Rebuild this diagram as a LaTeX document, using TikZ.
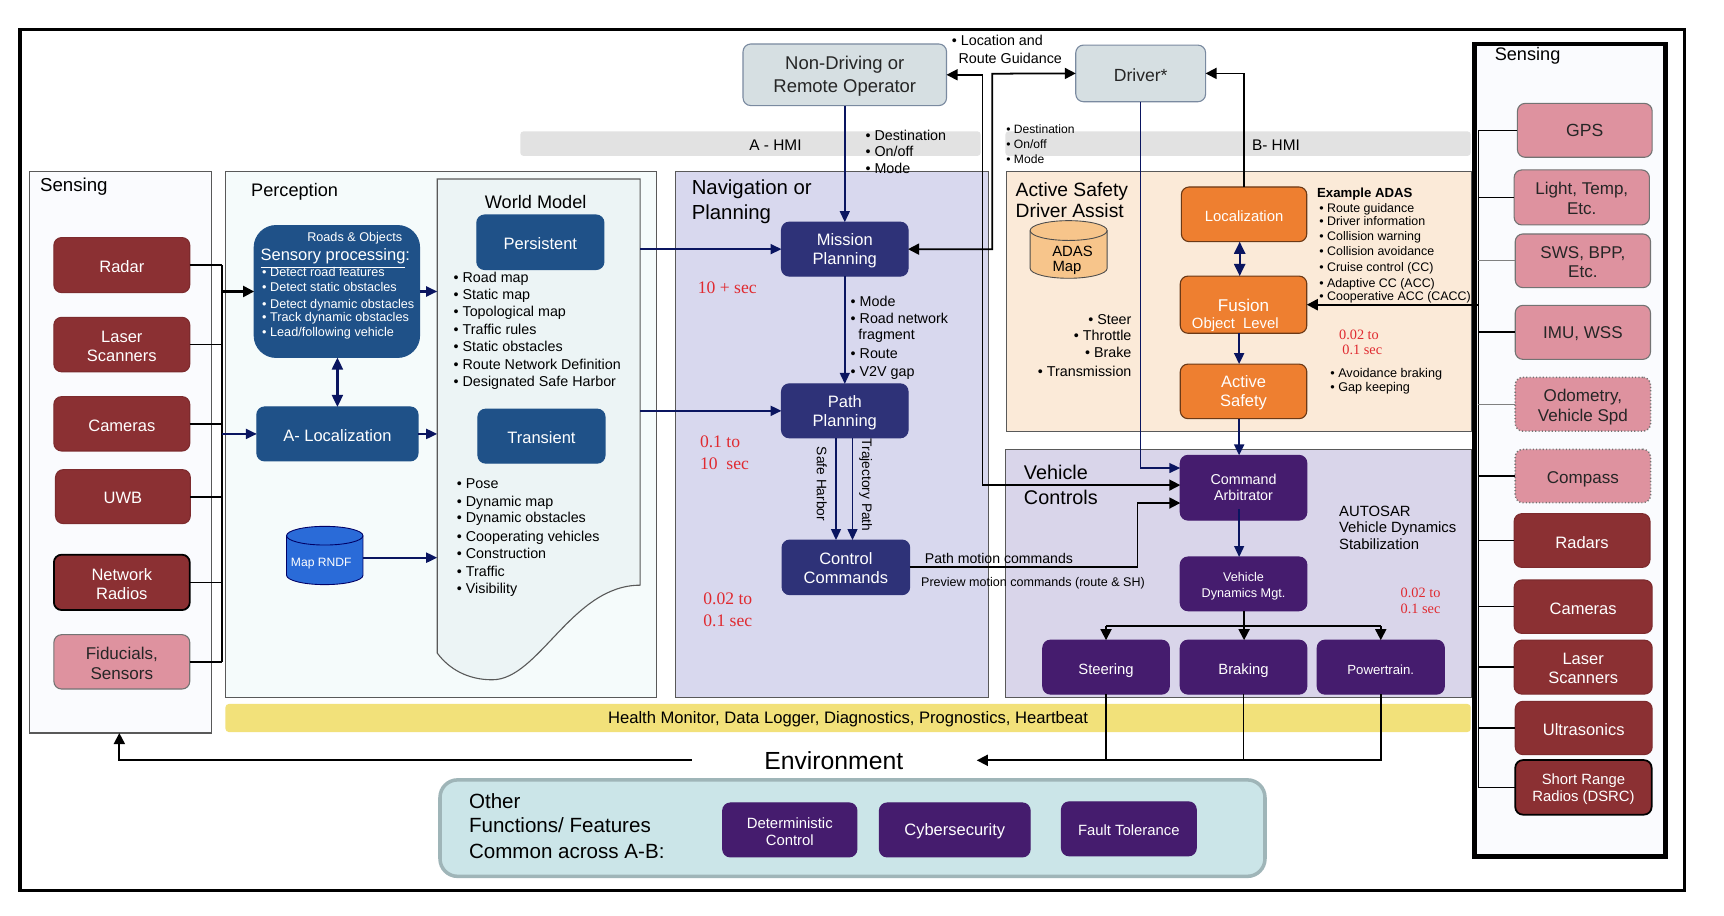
\documentclass[tikz,border=0pt]{standalone}
\usepackage{fontspec}
\setmainfont{Liberation Sans}
\newfontfamily\redserif{Liberation Serif}
\usetikzlibrary{arrows.meta,calc}
\definecolor{cdred}{HTML}{8B3033}
\definecolor{cpink}{HTML}{DE929F}
\definecolor{cblue}{HTML}{1F5188}
\definecolor{cnavy}{HTML}{2E3278}
\definecolor{cpurp}{HTML}{451C6E}
\definecolor{corange}{HTML}{EE7F30}
\definecolor{cgrey}{HTML}{D6DFE2}
\definecolor{cgborder}{HTML}{7A8AA0}
\definecolor{cline}{HTML}{0A1560}
\definecolor{cred}{HTML}{E02A30}
\definecolor{cbar}{HTML}{E2E2E2}
\definecolor{csens}{HTML}{FAFBFE}
\definecolor{cperc}{HTML}{F5FBFB}
\definecolor{cworld}{HTML}{ECF4F5}
\definecolor{cnavp}{HTML}{D8D8EE}
\definecolor{cvehp}{HTML}{D9D5EA}
\definecolor{cactp}{HTML}{FBEAD8}
\definecolor{cyell}{HTML}{F2E17A}
\definecolor{cothr}{HTML}{CBE5E8}
\definecolor{cothb}{HTML}{9FB5B8}
\definecolor{cmapb}{HTML}{2A6BD8}
\definecolor{cadas}{HTML}{F7C58B}
\newcommand\sz[1]{\pgfmathsetmacro\zs{#1*.5}\pgfmathsetmacro\zl{#1*.5*1.14}\fontsize{\zs pt}{\zl pt}\selectfont}
\newcounter{tcnt}
\gdef\txtdrop{.75pt}
\newcommand\bx[7]{%
 \gdef\txtdrop{.75pt}%
 \pgfmathsetmacro\cx{(#2+#4)/2}\pgfmathsetmacro\cy{(#3+#5)/2}%
 \pgfmathsetlengthmacro\bw{(#4-#2)*0.5pt}\pgfmathsetlengthmacro\bh{(#5-#3)*0.5pt}%
 \node[#6,minimum width=\bw,minimum height=\bh,inner sep=0pt,outer sep=0pt] (#1) at (\cx,\cy) {};
 \node[#6,draw=none,fill=none,inner sep=0pt,align=center,yshift=-\txtdrop] (#1t) at (\cx,\cy) {#7};}
\newcommand\tl[4][black]{\stepcounter{tcnt}\node[text=#1,anchor=mid west,inner sep=0pt,font=\sz{#2}] (tl\arabic{tcnt}) at (#3) {#4};}
\newcommand\tr[4][black]{\stepcounter{tcnt}\node[text=#1,anchor=mid east,inner sep=0pt,font=\sz{#2}] (tl\arabic{tcnt}) at (#3) {#4};}
\newcommand\tc[4][black]{\stepcounter{tcnt}\node[text=#1,anchor=mid,inner sep=0pt,font=\sz{#2}] (tl\arabic{tcnt}) at (#3) {#4};}
\newcommand\rd[3]{\stepcounter{tcnt}\node[text=cred,anchor=mid west,inner sep=0pt,font={\redserif\sz{#1}}] (tl\arabic{tcnt}) at (#2) {#3};}
\tikzset{
 x=0.5pt,y=-0.5pt,
 drop/.code={\gdef\txtdrop{#1}},
 pnl/.style={draw=black!65,line width=0.5pt},
 rb/.style={rounded corners=3.5pt,line width=0.5pt},
 dark/.style={rb,fill=cdred,draw=cdred!90!black,text=white,font=\sz{15}},
 pink/.style={rb,fill=cpink,draw=black!55,text=black!85,font=\sz{15.5}},
 pinkd/.style={pink,densely dotted,line width=.7pt},
 blu/.style={rb,fill=cblue,draw=cblue,text=white,font=\sz{15}},
 nav/.style={rb,fill=cnavy,draw=cnavy,text=white,font=\sz{15}},
 pur/.style={rb,fill=cpurp,draw=cpurp,text=white,font=\sz{13}},
 org/.style={rb,fill=corange,draw=black!55!corange,text=white,font=\sz{15}},
 gry/.style={rb,fill=cgrey,draw=cgborder,text=black!85,font=\sz{16.8}},
 blk/.style={draw=black,line width=0.8pt},
 blkt/.style={draw=black,line width=0.6pt},
 arr/.style={blk,-{Triangle[length=5pt,width=5pt]}},
 arrb/.style={blk,{Triangle[length=5pt,width=5pt]}-{Triangle[length=5pt,width=5pt]}},
 narr/.style={draw=cline,line width=0.7pt,-{Triangle[length=5pt,width=4.5pt]}},
 narrk/.style={narr,line width=1pt},
 narrb/.style={draw=cline,line width=1pt,{Triangle[length=5.5pt,width=5pt]}-{Triangle[length=5.5pt,width=5pt]}},
}
\begin{document}
\begin{tikzpicture}
\useasboundingbox (0,0) rectangle (1567.3,832.7);
\fill[white] (0,0) rectangle (1567.3,832.7);
% frame
\bx{frame}{18}{27}{1531.5}{809.4}{draw=black,line width=1.6pt}{}
% bars and panels
\bx{barA}{473}{119.4}{891.5}{141.8}{fill=cbar,rounded corners=1.5pt}{}
\bx{barB}{914}{119.4}{1337}{141.8}{fill=cbar,rounded corners=1.5pt}{}
\bx{lsens}{26.5}{155.8}{192.5}{666.4}{pnl,fill=csens}{}
\bx{perc}{205}{155.8}{597}{634}{pnl,fill=cperc}{}
\bx{navp}{614.5}{155.8}{899}{634}{pnl,fill=cnavp}{}
\bx{aspan}{915}{155.8}{1338}{392}{pnl,fill=cactp}{}
\bx{vcpan}{914}{408.5}{1338}{634}{pnl,fill=cvehp}{}
\bx{yell}{205}{640}{1337}{665.5}{fill=cyell,rounded corners=1.5pt,font=\sz{15.1}}{Health Monitor, Data Logger, Diagnostics, Prognostics, Heartbeat}
\bx{othr}{400}{709}{1150}{796.7}{rounded corners=8pt,fill=cothr,draw=cothb,line width=1.6pt}{}
\bx{rsens}{1340.5}{40}{1514}{778.5}{draw=black,line width=2.2pt,fill=csens}{}
% world model
\bx{wm}{397.5}{162.7}{582}{593.7}{}{}
\draw[pnl,fill=cworld] (397.5,162.7) -- (582,162.7) -- (582,532) .. controls (520,532) and (490,618) .. (447.5,618) .. controls (425,618) and (408,608) .. (397.5,593.7) -- cycle;
% left sensing
\bx{radar}{49}{216}{172.5}{266}{dark}{Radar}
\bx{laser}{49}{288.5}{172.5}{338}{dark}{Laser\\Scanners}
\bx{cams}{49}{360.6}{172.5}{410}{dark}{Cameras}
\bx{uwb}{50.5}{427}{173}{476}{dark}{UWB}
\bx{netr}{49}{504.3}{172.5}{554.6}{dark,draw=black,line width=.8pt}{Network\\Radios}
\bx{fidu}{49}{577}{172.5}{626.4}{pink}{Fiducials,\\Sensors}
\coordinate (lbusT) at (202,241);
\coordinate (lbusB) at (202,601.7);
\draw[blk] (lbusT) -- (lbusB);
\foreach \n in {radar,laser,cams,uwb,netr,fidu} \draw[blk] (\n.east) -- (\n.east -| lbusT);
% perception
\bx{sp}{231}{205}{381.5}{325}{rounded corners=10pt,fill=cblue,draw=cblue}{}
\bx{aloc}{233.5}{370}{380}{419}{blu}{A- Localization}
\bx{pers}{433.5}{195.5}{549}{245}{blu}{Persistent}
\bx{tran}{434.5}{372}{550}{421}{blu}{Transient}
\tc[white]{11.5}{322.5,214}{Roads \& Objects}
\tl[white]{15}{236.5,231.5}{\underline{Sensory processing}:}
\tl[white]{11.5}{238,246.5}{•\ Detect road features}
\tl[white]{11.5}{238,260}{•\ Detect static obstacles}
\tl[white]{11.5}{238,275}{•\ Detect dynamic obstacles}
\tl[white]{11.5}{238,287}{•\ Track dynamic obstacles}
\tl[white]{11.5}{238,301}{•\ Lead/following vehicle}
\tl{16.5}{228,173}{Perception}
\tl{17}{36,169}{Sensing}
\tc{16.5}{487,184}{World Model}
\tl{13}{412,251.5}{•\ Road map}
\tl{13}{412,267}{•\ Static map}
\tl{13}{412,282}{•\ Topological map}
\tl{13}{412,299}{•\ Traffic rules}
\tl{13}{412,314.5}{•\ Static obstacles}
\tl{13}{412,331}{•\ Route Network Definition}
\tl{13}{412,346}{•\ Designated Safe Harbor}
\tl{13}{415,439}{•\ Pose}
\tl{13}{415,455}{•\ Dynamic map}
\tl{13}{415,470}{•\ Dynamic obstacles}
\tl{13}{415,487}{•\ Cooperating vehicles}
\tl{13}{415,502.5}{•\ Construction}
\tl{13}{415,519}{•\ Traffic}
\tl{13}{415,534}{•\ Visibility}
% map RNDF
\bx{mapr}{260.5}{478.5}{330}{531.5}{}{}
\draw[draw=black!60!blue,fill=cmapb,line width=.4pt] (260.5,487) -- (260.5,523) .. controls (260.5,527.7) and (276.2,531.5) .. (295.25,531.5) .. controls (314.4,531.5) and (330,527.7) .. (330,523) -- (330,487) .. controls (330,482.3) and (314.4,478.5) .. (295.25,478.5) .. controls (276.2,478.5) and (260.5,482.3) .. (260.5,487) -- cycle;
\draw[draw=black!60!blue,line width=.4pt] (260.5,487) .. controls (260.5,491.7) and (276.2,495.5) .. (295.25,495.5) .. controls (314.4,495.5) and (330,491.7) .. (330,487);
\tc[white]{11}{292,510}{Map RNDF}
\draw[narrk] (sp.east) -- (sp.east -| wm.west);
\draw[narrk] (aloc.east) -- (aloc.east -| wm.west);
\draw[narrk] (330,507) -- (397.5,507);
\draw[narrb] (sp.south -| aloc.north) -- (aloc.north);
\draw[arr,line width=1pt] (lbusT |- sp.west) -- (sp.west);
\draw[narrk] (lbusT |- aloc.west) -- (aloc.west);
% HMI
\tc{14}{705,131.5}{A - HMI}
\tc{14}{1160,131.5}{B- HMI}
\bx{nd}{675.5}{40}{860.5}{96}{gry}{Non-Driving or\\[1pt]Remote Operator}
\bx{dr}{978}{41}{1096}{92.5}{gry,font=\sz{16}}{Driver*}
\tl{13}{865,36}{•\ Location and}
\tl{13}{871,52}{Route Guidance}
\tl{13}{786.5,122}{•\ Destination}
\tl{13}{786.5,137}{•\ On/off}
\tl{13}{786.5,152.7}{•\ Mode}
\tl{11}{914.5,116}{•\ Destination}
\tl{11}{914.5,130}{•\ On/off}
\tl{11}{914.5,143}{•\ Mode}
% navigation
\tl{18.5}{628.5,171.5}{Navigation or}
\tl{18.5}{628.5,194.5}{Planning}
\bx{mp}{710.5}{202}{825.5}{251}{nav}{Mission\\Planning}
\bx{pp}{710.5}{349}{825.5}{398}{nav}{Path\\Planning}
\bx{cc}{711}{491}{827}{540.6}{nav,drop=.4pt}{Control\\Commands}
\rd{16}{634,261.5}{10 + sec}
\rd{16}{636,402}{0.1 to}
\rd{16}{636,422}{10\ \ sec}
\rd{16}{639,544.3}{0.02 to}
\rd{16}{639,564}{0.1 sec}
\tl{13}{773,273.6}{•\ Mode}
\tl{13}{773,288.8}{•\ Road network}
\tl{13}{780,303.6}{fragment}
\tl{13}{773,321}{•\ Route}
\tl{13}{773,337}{•\ V2V gap}
\stepcounter{tcnt}\node[rotate=-90,font=\sz{12.5},inner sep=0pt] (sh) at (747,440) {Safe Harbor};
\stepcounter{tcnt}\node[rotate=-90,font=\sz{12.5},inner sep=0pt] (tp) at (787,441) {Trajectory Path};
\draw[narr] (nd.south) -- (mp.north);
\draw[narr] (mp.south) -- (pp.north);
\draw[narr] ([xshift=-4pt]pp.south) -- ([xshift=-4pt]pp.south |- cc.north);
\draw[narr] ([xshift=3.5pt]pp.south) -- ([xshift=3.5pt]pp.south |- cc.north);
\draw[narrk] (wm.east |- mp.west) -- (mp.west);
\draw[narrk] (wm.east |- pp.west) -- (pp.west);
% active safety
\tl{17.5}{923,173}{Active Safety}
\tl{17.5}{923,192.7}{Driver Assist}
\bx{adas}{936.5}{200.6}{1006.5}{253}{}{}
\draw[draw=black!70,fill=cadas,line width=.4pt] (936.5,209.6) -- (936.5,244) .. controls (936.5,249) and (952.2,253) .. (971.5,253) .. controls (990.8,253) and (1006.5,249) .. (1006.5,244) -- (1006.5,209.6) .. controls (1006.5,204.6) and (990.8,200.6) .. (971.5,200.6) .. controls (952.2,200.6) and (936.5,204.6) .. (936.5,209.6) -- cycle;
\draw[draw=black!70,line width=.4pt] (936.5,209.6) .. controls (936.5,214.6) and (952.2,218.6) .. (971.5,218.6) .. controls (990.8,218.6) and (1006.5,214.6) .. (1006.5,209.6);
\tc{13.5}{975,228}{ADAS}
\tc{13.5}{970,242}{Map}
\bx{loc}{1074}{170}{1188}{219.7}{org,font=\sz{13.5}}{Localization}
\bx{fu}{1073}{251}{1188}{303}{org}{}
\tc[white]{15.5}{1130.5,278}{Fusion}
\tc[white]{13.5}{1123,293}{Object\ \ Level}
\bx{as}{1073}{331}{1188}{380.6}{org}{Active\\Safety}
\tl{12}{1197,174}{\bfseries Example ADAS}
\tl{11.3}{1199,187.6}{•\ Route guidance}
\tl{11.3}{1199,200}{•\ Driver information}
\tl{11.3}{1199,213.3}{•\ Collision warning}
\tl{11.3}{1199,226.7}{•\ Collision avoidance}
\tl{11.3}{1199,242}{•\ Cruise control (CC)}
\tl{11.3}{1199,255.8}{•\ Adaptive CC (ACC)}
\tl{11.3}{1199,268}{•\ Cooperative ACC (CACC)}
\tr{13}{1029,290}{•\ Steer}
\tr{13}{1029,304}{•\ Throttle}
\tr{13}{1029,319.7}{•\ Brake}
\tr{13}{1029,337}{•\ Transmission}
\rd{13}{1217,303}{0.02 to}
\rd{13}{1220,317}{0.1 sec}
\tl{11.5}{1209,338}{•\ Avoidance braking}
\tl{11.5}{1209,350.6}{•\ Gap keeping}
\draw[narrb] ([xshift=-2pt]loc.south) -- ([xshift=-2pt]loc.south |- fu.north);
\draw[narrk] ([xshift=-2pt]fu.south) -- ([xshift=-2pt]fu.south |- as.north);
% vehicle controls
\tl{18}{930.5,430.6}{Vehicle}
\tl{18}{930.5,453.4}{Controls}
\bx{ca}{1073}{414}{1188}{472.8}{pur,drop=0pt}{Command\\Arbitrator}
\bx{vd}{1073}{506.4}{1188}{555.2}{pur,font=\sz{11.5},drop=1pt}{Vehicle\\[1pt]Dynamics Mgt.}
\bx{st}{948}{582}{1063}{631}{pur,font=\sz{13.5},drop=1.5pt}{Steering}
\bx{br}{1073}{582}{1188}{631}{pur,font=\sz{13.5},drop=1.5pt}{Braking}
\bx{pw}{1197.5}{582}{1313}{631}{pur,font=\sz{12},drop=1pt}{Powertrain.}
\tl{13.5}{1217,464}{AUTOSAR}
\tl{13.5}{1217,478.5}{Vehicle Dynamics}
\tl{13.5}{1217,494}{Stabilization}
\rd{13}{1273,538}{0.02 to}
\rd{13}{1273,552.5}{0.1 sec}
\tl{12.8}{840.5,507.3}{Path motion commands}
\tl{11.4}{837,528}{Preview motion commands (route \& SH)}
\draw[narrk] ([xshift=-2pt]as.south) -- ([xshift=-2pt]as.south |- ca.north);
\coordinate (caIn) at (1126.5,463);
\draw[narr] (caIn) -- (caIn |- vd.north);
\coordinate (xa) at (893,441);
\coordinate (caA) at (1073,441);
\draw[arrb,line width=.7pt] (nd.east) -| (xa) -- (caA);
\coordinate (xb) at (902,67);
\draw[arrb] (mp.east) -| (xb) -- (dr.west);
\draw[arr] (loc.north) |- (dr.east);
\coordinate (caB) at (1073,425.5);
\draw[narr] (dr.south) |- (caB);
\coordinate (xc) at (1034,457.3);
\coordinate (caC) at (1073,457.3);
\draw[arr] (cc.east) -| (xc) -- (caC);
% tree
\coordinate (tr0) at (1131,569);
\coordinate (trL) at (st.north |- tr0);
\coordinate (trR) at (pw.north |- tr0);
\draw[blk,line width=1pt] (vd.south -| tr0) -- (tr0);
\draw[blk] (trL) -- (trR);
\draw[arr] (trL) -- (st.north);
\draw[arr] (tr0) -- (br.north -| tr0);
\draw[arr] (trR) -- (pw.north);
% environment
\tc{22.5}{758,694}{Environment}
\coordinate (envL) at (888,691.2);
\coordinate (envS) at (629,691.2);
\draw[arr] (pw.south) |- (envL);
\draw[blkt] (st.south) -- (st.south |- envL);
\draw[blkt] (br.south) -- (br.south |- envL);
\coordinate (lsB) at (108.5,666.4);
\draw[arr] (envS) -| (lsB);
% other
\tl{18.7}{426,729.4}{Other}
\tl{18.7}{426,752}{Functions/ Features}
\tl{18.7}{426,775}{Common across A-B:}
\bx{det}{657}{730}{779}{779}{pur,font=\sz{13.5}}{Deterministic\\Control}
\bx{cyb}{799.5}{730}{936.5}{779}{pur,font=\sz{15}}{Cybersecurity}
\bx{ft}{965}{729}{1087.5}{778}{pur,font=\sz{13.5}}{Fault Tolerance}
% right sensing
\tl{16.5}{1358.5,50}{Sensing}
\bx{gps}{1379.5}{94}{1502}{143}{pink,font=\sz{16},drop=.2pt}{GPS}
\bx{lig}{1376.5}{154.5}{1499.5}{204.5}{pink,drop=.4pt}{Light, Temp,\\Etc.}
\bx{sws}{1377.5}{212.7}{1500.5}{261.5}{pink,drop=.6pt}{SWS, BPP,\\Etc.}
\bx{imu}{1377.5}{277.6}{1500.5}{326.7}{pink}{IMU, WSS}
\bx{odo}{1377.5}{343}{1500.5}{392}{pinkd,drop=1.2pt}{Odometry,\\Vehicle Spd}
\bx{com}{1377.5}{408.5}{1500.5}{457}{pinkd,drop=1.5pt}{Compass}
\bx{rad}{1376.5}{467}{1500}{515.8}{dark}{Radars}
\bx{cam}{1376.5}{527.3}{1502}{575.8}{dark}{Cameras}
\bx{las}{1376.5}{582}{1502}{631}{dark}{Laser\\Scanners}
\bx{ult}{1377.5}{637.6}{1502}{686}{dark}{Ultrasonics}
\bx{srr}{1377.5}{691}{1501.5}{740.6}{dark,draw=black,line width=.8pt,font=\sz{13.5},drop=1pt}{Short Range\\Radios (DSRC)}
\coordinate (rbusT) at (1344,118.5);
\coordinate (rbusB) at (1344,716);
\draw[blkt] (rbusT) -- (rbusB);
\foreach \n in {gps,lig,rad,cam,las,ult,srr,com} \draw[blkt] (\n.west) -- (\n.west -| rbusT);
\draw[blkt,draw=black!50] (sws.west) -- (sws.west -| rbusT);
\draw[blkt,draw=black!50] (odo.west) -- (odo.west -| rbusT);
\draw[blk,line width=1pt] (imu.west) -- (imu.west -| rbusT);
\draw[arr,line width=1pt] (fu.east -| rbusT) -- (fu.east);
\end{tikzpicture}
\end{document}
